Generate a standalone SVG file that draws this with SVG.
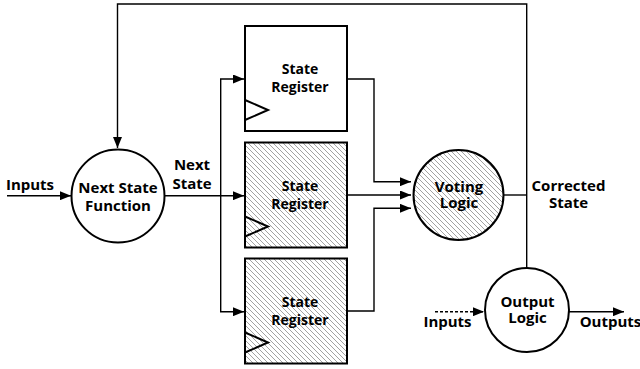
<svg xmlns="http://www.w3.org/2000/svg" width="640" height="369" viewBox="0 0 640 369">
  <style>
    text { font-family: "Open Sans", "Liberation Sans", sans-serif; font-weight: bold; font-size: 15px; fill: #000; text-anchor: middle; }
    .reg text { font-size: 14px; }
    .box { stroke: #000; stroke-width: 2; }
    .clk { fill: none; stroke: #000; stroke-width: 2; }
    .node { stroke: #000; stroke-width: 2; }
    .plain { fill: #fff; }
    .hatched { fill: url(#hatch); }
    .wire { fill: none; stroke: #000; stroke-width: 1.4; }
    .arrow { marker-end: url(#head); }
    .dash { stroke-dasharray: 3 2; }
    .left { text-anchor: start; }
  </style>
  <defs>
    <pattern id="hatch" patternUnits="userSpaceOnUse" width="5" height="5">
      <rect width="5" height="5" fill="#fff"/>
      <path d="M0,0 L5,5 M-1,4 L1,6 M4,-1 L6,1" stroke="#8a8a8a" stroke-width="0.8"/>
    </pattern>
    <marker id="head" markerUnits="userSpaceOnUse" markerWidth="12" markerHeight="9" refX="11" refY="4.5" orient="auto">
      <path d="M0,0 L11,4.5 L0,9 z" fill="#000"/>
    </marker>
  </defs>

  <!-- connectors -->
  <g id="connectors">
    <!-- feedback of corrected state -->
    <path class="wire arrow" d="M526.7,268 V4 H117.5 V148"/>
    <!-- external inputs -->
    <path class="wire arrow" d="M7,195.7 H71"/>
    <!-- next state fan-out -->
    <path class="wire arrow" d="M164.5,195.7 H244"/>
    <path class="wire arrow" d="M220.7,195.7 V79 H244"/>
    <path class="wire arrow" d="M220.7,195.7 V311.7 H244"/>
    <!-- register outputs into voter -->
    <path class="wire arrow" d="M347,79 H374 V181.7 H411"/>
    <path class="wire arrow" d="M347,195 H411"/>
    <path class="wire arrow" d="M347,311 H374 V208.3 H411"/>
    <!-- voter output -->
    <path class="wire" d="M504,195 H526.7"/>
    <!-- output logic -->
    <path class="wire arrow dash" d="M435,311.7 H484"/>
    <path class="wire arrow" d="M569,311.7 H624"/>
  </g>

  <g id="next-state-function">
    <circle class="node plain" cx="118" cy="196" r="46.5"/>
    <text x="118" y="193.3">Next State</text>
    <text x="118" y="210.7">Function</text>
  </g>

  <g id="reg-a" class="reg">
    <rect class="box plain" x="245" y="26" width="102" height="105"/>
    <polyline class="clk" points="245,100 268,110 245,120"/>
    <text x="300" y="73.5">State</text>
    <text x="300" y="91.7">Register</text>
  </g>

  <g id="reg-b" class="reg">
    <rect class="box hatched" x="245" y="142.5" width="102" height="105"/>
    <polyline class="clk" points="245,216.5 268,226.5 245,236.5"/>
    <text x="300" y="191">State</text>
    <text x="300" y="209">Register</text>
  </g>

  <g id="reg-c" class="reg">
    <rect class="box hatched" x="245" y="258.5" width="102" height="105"/>
    <polyline class="clk" points="245,332.5 268,342.5 245,352.5"/>
    <text x="300" y="306.5">State</text>
    <text x="300" y="324.5">Register</text>
  </g>

  <g id="voting-logic">
    <circle class="node hatched" cx="458.5" cy="195" r="45"/>
    <text x="459" y="191.5">Voting</text>
    <text x="459" y="208">Logic</text>
  </g>

  <g id="output-logic">
    <circle class="node plain" cx="527" cy="310" r="42"/>
    <text x="527.5" y="306.5">Output</text>
    <text x="527.5" y="322.7">Logic</text>
  </g>

  <g id="labels">
    <text x="30" y="190">Inputs</text>
    <text x="192" y="170">Next</text>
    <text x="192" y="189.3">State</text>
    <text x="568.5" y="190.7">Corrected</text>
    <text x="568.5" y="208.3">State</text>
    <text x="447.5" y="327.3">Inputs</text>
    <text x="610.5" y="327.3">Outputs</text>
  </g>
</svg>
